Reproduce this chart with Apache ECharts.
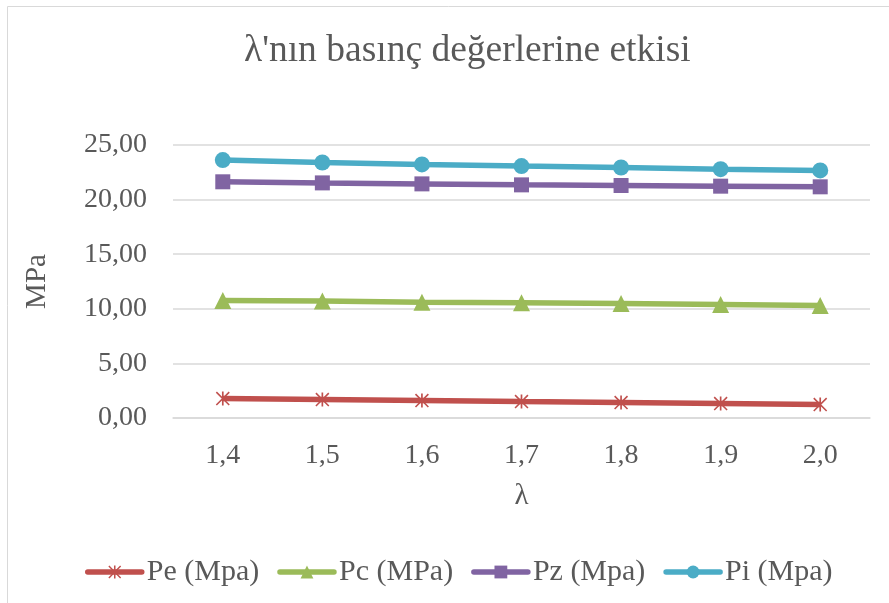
<!DOCTYPE html>
<html>
<head>
<meta charset="utf-8">
<script src="https://cdn.jsdelivr.net/npm/echarts@6/dist/echarts.min.js"></script>
<style>html,body{margin:0;padding:0;background:#fff}#c{width:889px;height:603px}</style>
</head>
<body>
<div id="c"></div>
<script>
var categories = ['1,4', '1,5', '1,6', '1,7', '1,8', '1,9', '2,0'];
var pe = [1.78, 1.69, 1.60, 1.50, 1.41, 1.32, 1.23];
var pc = [10.77, 10.71, 10.61, 10.55, 10.49, 10.40, 10.31];
var pz = [21.63, 21.53, 21.44, 21.35, 21.29, 21.23, 21.17];
var pi = [23.62, 23.40, 23.22, 23.07, 22.94, 22.79, 22.67];
var seriesNames = ['Pe (Mpa)', 'Pc (MPa)', 'Pz (Mpa)', 'Pi (Mpa)'];
var colors = ['#C0504D', '#9BBB59', '#8064A2', '#4BACC6'];

var FONT = "'Liberation Serif', 'Times New Roman', serif";
var TXT = '#595959';
var starPath = 'path://M4.4,0 L5.6,0 L5.6,10 L4.4,10 Z M0,0.8 L0.8,0 L10,9.2 L9.2,10 Z M9.2,0 L10,0.8 L0.8,10 L0,9.2 Z';

function mk(name, data, color, symbol, size) {
  return {
    name: name, type: 'line', data: data, symbol: symbol, symbolSize: size,
    lineStyle: { color: color, width: 5.5 },
    itemStyle: { color: color },
    emphasis: { disabled: true }, animation: false
  };
}

var chart = echarts.init(document.getElementById('c'));
chart.setOption({
  animation: false,
  color: colors,
  textStyle: { fontFamily: FONT, color: TXT },
  graphic: [{ type: 'rect', shape: { x: 7.5, y: 6.5, width: 1000, height: 1000 },
    style: { fill: 'none', stroke: '#d9d9d9', lineWidth: 1 } }],
  title: {
    text: "λ'nın basınç değerlerine etkisi", left: 239, top: 27,
    textStyle: { fontFamily: FONT, fontSize: 37.5, fontWeight: 'normal', color: TXT }
  },
  grid: { left: 173, right: 19, top: 145, bottom: 185 },
  legend: {
    left: 80, top: 552, itemWidth: 54, itemHeight: 16, itemGap: 18,
    data: seriesNames,
    lineStyle: { width: 5.5, cap: 'round' },
    textStyle: { fontFamily: FONT, fontSize: 30, color: TXT }
  },
  xAxis: {
    type: 'category', data: categories, boundaryGap: true,
    name: 'λ', nameLocation: 'middle', nameGap: 64,
    nameTextStyle: { fontFamily: FONT, fontSize: 29, color: TXT },
    axisLine: { lineStyle: { color: '#d9d9d9', width: 1.5 } },
    axisTick: { show: false },
    axisLabel: { fontFamily: FONT, fontSize: 28, color: TXT, margin: 24 }
  },
  yAxis: {
    type: 'value', min: 0, max: 25, interval: 5,
    name: 'MPa', nameLocation: 'middle', nameGap: 121, nameRotate: 90,
    nameTextStyle: { fontFamily: FONT, fontSize: 29, color: TXT },
    axisLine: { show: false }, axisTick: { show: false },
    splitLine: { lineStyle: { color: '#d9d9d9', width: 1.5 } },
    axisLabel: { fontFamily: FONT, fontSize: 28, color: TXT, margin: 26,
      formatter: function (v) { return v.toFixed(2).replace('.', ','); } }
  },
  series: [
    mk(seriesNames[0], pe, colors[0], starPath, 14),
    mk(seriesNames[1], pc, colors[1], 'triangle', 17),
    mk(seriesNames[2], pz, colors[2], 'rect', 15),
    mk(seriesNames[3], pi, colors[3], 'circle', 16)
  ]
});
</script>
</body>
</html>
